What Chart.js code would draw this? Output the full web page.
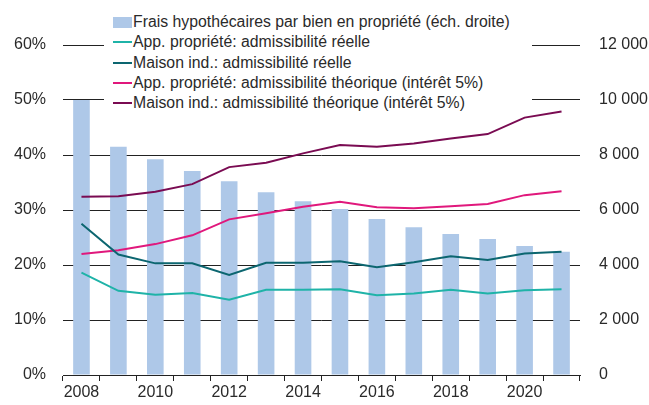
<!DOCTYPE html>
<html>
<head>
<meta charset="utf-8">
<script src="https://cdn.jsdelivr.net/npm/chart.js@4.4.1/dist/chart.umd.min.js"></script>
<style>
  html, body { margin: 0; padding: 0; background: #fff; }
  #wrap { position: relative; width: 649px; height: 405px; }
  #legend {
    position: absolute; left: 104px; top: 12px; width: 428px;
    background: #fff; padding: 0 0 0 9px; box-sizing: border-box;
    font-family: "Liberation Sans", Arial, sans-serif; font-size: 15.8px; color: #2a2a2a;
  }
  .item { display: flex; align-items: center; height: 20.3px; white-space: nowrap; }
  .sw { width: 19px; margin-right: 1px; flex: none; }
</style>
</head>
<body>
<div id="wrap">
  <canvas id="c" width="649" height="405"></canvas>
  <div id="legend"></div>
</div>
<script>
const years = ['2008','2009','2010','2011','2012','2013','2014','2015','2016','2017','2018','2019','2020','2021'];
const fraisHypo = [10000, 8300, 7850, 7420, 7050, 6650, 6320, 6040, 5670, 5370, 5130, 4950, 4690, 4480];
const appReelle = [18.6, 15.3, 14.6, 14.9, 13.7, 15.5, 15.5, 15.6, 14.5, 14.8, 15.5, 14.8, 15.4, 15.6];
const maisonReelle = [27.5, 21.9, 20.3, 20.3, 18.2, 20.4, 20.4, 20.7, 19.6, 20.5, 21.6, 20.9, 22.1, 22.4];
const appTheorique = [22.0, 22.7, 23.8, 25.4, 28.3, 29.4, 30.6, 31.5, 30.5, 30.3, 30.7, 31.1, 32.7, 33.4];
const maisonTheorique = [32.4, 32.5, 33.3, 34.7, 37.8, 38.6, 40.3, 41.8, 41.5, 42.1, 43.0, 43.8, 46.8, 47.9];
const pctTicks = [0, 10, 20, 30, 40, 50, 60];
const chfTicks = [0, 2000, 4000, 6000, 8000, 10000, 12000];

const labels = {
  frais: 'Frais hypothécaires par bien en propriété (éch. droite)',
  appR: 'App. propriété: admissibilité réelle',
  maisonR: 'Maison ind.: admissibilité réelle',
  appT: 'App. propriété: admissibilité théorique (intérêt 5%)',
  maisonT: 'Maison ind.: admissibilité théorique (intérêt 5%)'
};

const FONT = '"Liberation Sans", Arial, sans-serif';
const GRID = '#222';
const fmt = v => String(v).replace(/\B(?=(\d{3})+(?!\d))/g, ' ');

function line(label, data, color) {
  return { type: 'line', label, data, borderColor: color, backgroundColor: color,
    borderWidth: 2, pointRadius: 0, tension: 0, yAxisID: 'y', order: 0 };
}

const chart = new Chart(document.getElementById('c'), {
  type: 'bar',
  data: {
    labels: years,
    datasets: [
      { type: 'bar', label: labels.frais, data: fraisHypo, backgroundColor: '#aec8e8',
        yAxisID: 'y2', order: 1, barPercentage: 0.45, categoryPercentage: 1 },
      line(labels.appR, appReelle, '#1fb3a8'),
      line(labels.maisonR, maisonReelle, '#0c6670'),
      line(labels.appT, appTheorique, '#e0187c'),
      line(labels.maisonT, maisonTheorique, '#7a0b52')
    ]
  },
  options: {
    responsive: false,
    animation: false,
    layout: { padding: { top: 45, left: 0, right: 0, bottom: 0 } },
    plugins: { legend: { display: false }, tooltip: { enabled: false } },
    scales: {
      x: {
        offset: true,
        grid: { offset: true, drawOnChartArea: false, drawTicks: true, tickLength: 6, color: GRID },
        border: { display: true, color: GRID, width: 1 },
        ticks: {
          autoSkip: false, maxRotation: 0, padding: 2, color: '#2a2a2a',
          font: { family: FONT, size: 16 },
          callback: (v, i) => (i % 2 === 0 ? years[i] : '')
        },
        afterFit: s => { s.height = 30; }
      },
      y: {
        position: 'left', min: 0, max: 60,
        afterBuildTicks: s => { s.ticks = pctTicks.map(v => ({ value: v })); },
        grid: { color: GRID, drawTicks: false },
        border: { display: false },
        ticks: { padding: 17, color: '#2a2a2a', font: { family: FONT, size: 16 },
          callback: v => v + '%' },
        afterFit: s => { s.width = 63; }
      },
      y2: {
        position: 'right', min: 0, max: 12000,
        afterBuildTicks: s => { s.ticks = chfTicks.map(v => ({ value: v })); },
        grid: { drawOnChartArea: false, drawTicks: false },
        border: { display: false },
        ticks: { padding: 19, color: '#2a2a2a', font: { family: FONT, size: 16 },
          callback: v => fmt(v) },
        afterFit: s => { s.width = 69; }
      }
    }
  }
});

// HTML legend built from the chart datasets
const lg = document.getElementById('legend');
chart.data.datasets.forEach(ds => {
  const it = document.createElement('div');
  it.className = 'item';
  const sw = document.createElement('span');
  sw.className = 'sw';
  if (ds.type === 'bar') {
    sw.style.height = '11px';
    sw.style.background = ds.backgroundColor;
  } else {
    sw.style.height = '2px';
    sw.style.background = ds.borderColor;
  }
  const tx = document.createElement('span');
  tx.textContent = ds.label;
  it.appendChild(sw);
  it.appendChild(tx);
  lg.appendChild(it);
});
</script>
</body>
</html>
